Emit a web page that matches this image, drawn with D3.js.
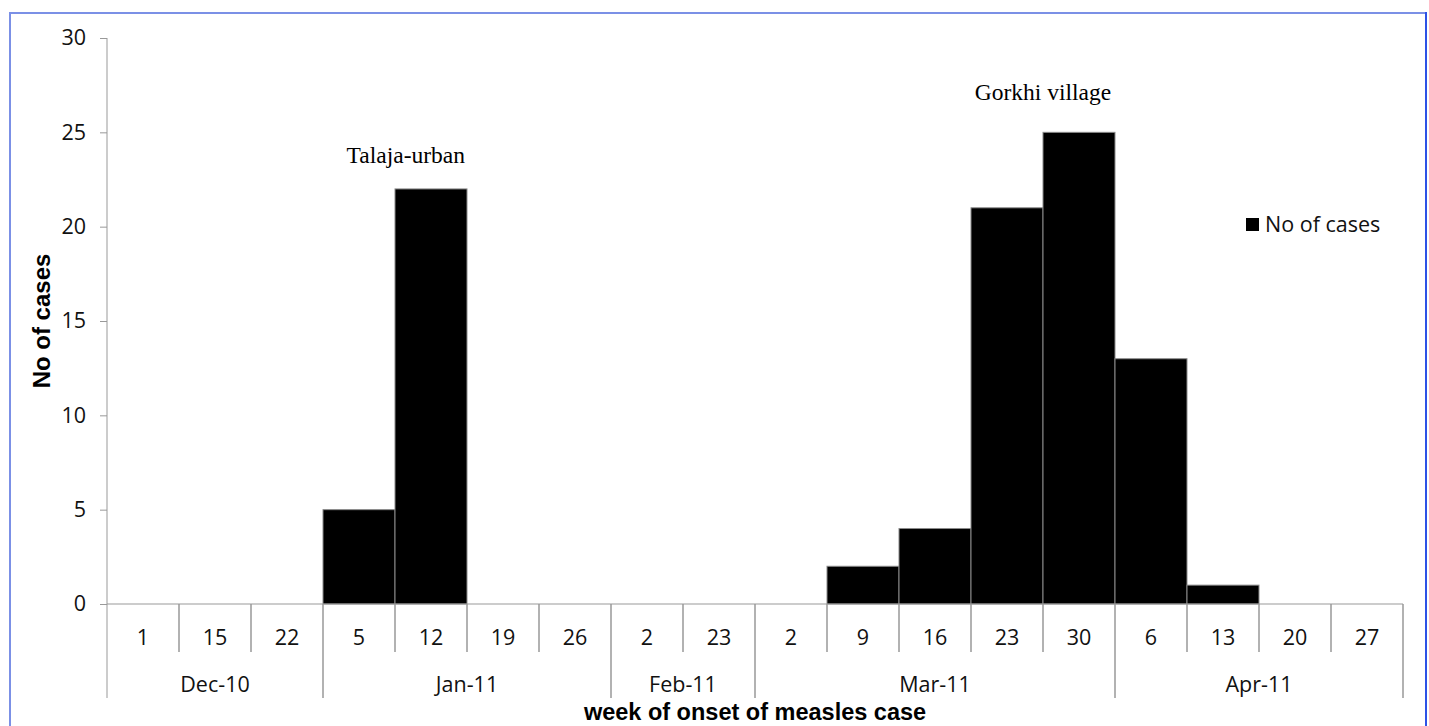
<!DOCTYPE html>
<html><head><meta charset="utf-8">
<script src="https://cdn.jsdelivr.net/npm/d3@7"></script>
<style>body{margin:0;background:#fff;}svg{display:block;}</style>
</head><body>
<script>
const weeks = ["1","15","22","5","12","19","26","2","23","2","9","16","23","30","6","13","20","27"];
const cases = [0,0,0,5,22,0,0,0,0,0,2,4,21,25,13,1,0,0];
const months = [
  {label:"Dec-10", start:0, end:3},
  {label:"Jan-11", start:3, end:7},
  {label:"Feb-11", start:7, end:9},
  {label:"Mar-11", start:9, end:14},
  {label:"Apr-11", start:14, end:18}
];
const yTicks = [0,5,10,15,20,25,30];
const annotations = [
  {text:"Talaja-urban", idx:4, offset:-0.35, value:23.4},
  {text:"Gorkhi village", idx:13, offset:-0.5, value:26.7}
];
const seriesName = "No of cases";

(function(){
const W=1429,H=726;
const svg=d3.select("body").append("svg").attr("width",W).attr("height",H);
const pL=107,pR=1403,pT=38,pB=604;
const idx=d3.range(weeks.length);
const x=d3.scaleBand().domain(idx).range([pL,pR]).padding(0);
const y=d3.scaleLinear().domain([0,30]).range([pB,pT]);
const sans="'Open Sans', 'Noto Sans', sans-serif";
const fs=21.5;

// frame
svg.append("line").attr("x1",10).attr("x2",1426).attr("y1",13).attr("y2",13).attr("stroke","#7b90e6").attr("stroke-width",2);
svg.append("line").attr("x1",10).attr("x2",10).attr("y1",12).attr("y2",H).attr("stroke","#7b90e6").attr("stroke-width",2);
svg.append("line").attr("x1",1426).attr("x2",1426).attr("y1",12).attr("y2",H).attr("stroke","#2d52e6").attr("stroke-width",2);

// bars
svg.append("g").selectAll("rect").data(idx.filter(i=>cases[i]>0)).join("rect")
  .attr("x",i=>x(i)).attr("width",x.bandwidth())
  .attr("y",i=>y(cases[i])).attr("height",i=>y(0)-y(cases[i]))
  .attr("fill","#000").attr("stroke","#8a8a8a").attr("stroke-width",1);

// y axis
const yAxis=d3.axisLeft(y).tickValues(yTicks).tickSize(7).tickPadding(14);
const gy=svg.append("g").attr("transform",`translate(${pL},0)`).call(yAxis);
gy.select(".domain").attr("stroke","#999").attr("d",`M0,${pT}V${pB+94}`);
gy.selectAll(".tick line").attr("stroke","#999");
gy.selectAll(".tick text").attr("font-family",sans).attr("font-size",fs).attr("fill","#111");

// x axis
const xAxis=d3.axisBottom(x).tickSize(0).tickFormat(i=>weeks[i]);
const gx=svg.append("g").attr("transform",`translate(0,${pB})`).call(xAxis);
gx.select(".domain").attr("stroke","#999").attr("d",`M${pL},0H${pR}`);
gx.selectAll(".tick text").attr("font-family",sans).attr("font-size",fs).attr("fill","#111").attr("dy",0).attr("y",41);

// category separators
const monthStarts=new Set(months.map(m=>m.start).concat([weeks.length]));
svg.append("g").selectAll("line").data(d3.range(1,weeks.length+1)).join("line")
  .attr("x1",i=>i<weeks.length?x(i):pR).attr("x2",i=>i<weeks.length?x(i):pR)
  .attr("y1",pB).attr("y2",i=>monthStarts.has(i)?pB+94:pB+48)
  .attr("stroke","#999").attr("stroke-width",1.5);

// month labels
svg.append("g").selectAll("text").data(months).join("text")
  .attr("x",m=>(x(m.start)+(m.end<weeks.length?x(m.end):pR))/2)
  .attr("y",pB+88).attr("text-anchor","middle")
  .attr("font-family",sans).attr("font-size",fs).attr("fill","#111").text(m=>m.label);

// annotations
svg.append("g").selectAll("text").data(annotations).join("text")
  .attr("x",a=>x(a.idx)+x.bandwidth()*(0.5+a.offset)).attr("y",a=>y(a.value))
  .attr("text-anchor","middle").attr("font-family","'Liberation Serif', serif")
  .attr("font-size",23.5).attr("fill","#000").text(a=>a.text);

// axis titles
svg.append("text").attr("x",(pL+pR)/2).attr("y",720).attr("text-anchor","middle")
  .attr("font-family","'Liberation Sans', Arial, sans-serif").attr("font-weight","bold").attr("font-size",23.5)
  .attr("fill","#000").text("week of onset of measles case");
svg.append("text").attr("transform",`translate(50,${(pT+pB)/2}) rotate(-90)`).attr("text-anchor","middle")
  .attr("font-family","'Liberation Sans', Arial, sans-serif").attr("font-weight","bold").attr("font-size",24)
  .attr("fill","#000").text("No of cases");

// legend
const lg=svg.append("g").attr("transform","translate(1246,218)");
lg.append("rect").attr("width",13).attr("height",13).attr("fill","#000");
lg.append("text").attr("x",19).attr("y",14).attr("font-family",sans).attr("font-size",fs).attr("fill","#111").text(seriesName);
})();
</script>
</body></html>
